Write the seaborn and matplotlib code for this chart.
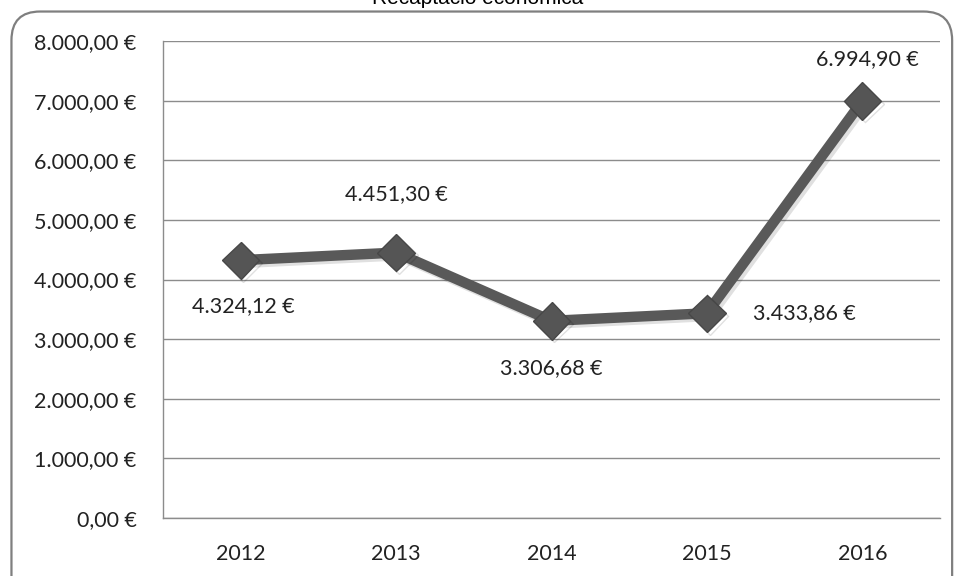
import matplotlib
matplotlib.use("Agg")
import matplotlib.pyplot as plt
import matplotlib.patheffects as pe
from matplotlib.patches import FancyBboxPatch
from matplotlib.ticker import FuncFormatter, FixedLocator
import seaborn as sns
import pandas as pd

# dades
anys = ["2012", "2013", "2014", "2015", "2016"]
recaptacio = [4324.12, 4451.30, 3306.68, 3433.86, 6994.90]
# posició de cada etiqueta respecte del punt (en punts)
offsets = [(2, -33), (0, 42), (0, -34), (70, 0), (4, 30)]

df = pd.DataFrame({"any": anys, "euros": recaptacio})


def euro(v, pos=None):
    s = f"{v:,.2f}".replace(",", "X").replace(".", ",").replace("X", ".")
    return s + " €"


sns.set_style("white")
plt.rcParams["font.family"] = ["Lato", "DejaVu Sans"]

fig = plt.figure(figsize=(9.55, 5.76), dpi=100)
ax = fig.add_axes([0.1707, 0.1007, 0.8136, 0.8281])

# marc arrodonit del gràfic
marc = FancyBboxPatch((0.012, -0.05), 0.985, 1.03, boxstyle="round,pad=0,rounding_size=0.03",
                      transform=fig.transFigure, fill=False, edgecolor="#7f7f7f", linewidth=1.6,
                      mutation_aspect=955 / 576, clip_on=False)
fig.patches.append(marc)

sns.lineplot(data=df, x="any", y="euros", ax=ax, color="#595959", linewidth=7.5,
             marker="D", markersize=19, markerfacecolor="#555555", markeredgecolor="#474747",
             markeredgewidth=1, sort=False,
             path_effects=[pe.SimpleLineShadow(offset=(2, -2), shadow_color="#000000", alpha=0.12),
                           pe.Normal()])

ax.set_xlim(-0.5, len(anys) - 0.5)
ax.set_ylim(0, 8000)
ax.set_yticks(range(0, 8001, 1000))
ax.yaxis.set_major_formatter(FuncFormatter(euro))
ax.xaxis.set_minor_locator(FixedLocator([i - 0.5 for i in range(len(anys) + 1)]))
ax.tick_params(axis="x", which="major", length=0, labelsize=15.5, pad=19, colors="#222222")
ax.tick_params(axis="x", which="minor", length=7, color="#888888", direction="out")
ax.tick_params(axis="y", length=7, color="#888888", labelsize=15.5, pad=12, colors="#222222",
               direction="out")
ax.tick_params(axis="y", color="#888888")
ax.tick_params(axis="x", which="minor", color="#888888")
ax.grid(axis="y", color="#8c8c8c", linewidth=1)
ax.set_axisbelow(True)
for side in ["top", "right"]:
    ax.spines[side].set_visible(False)
for side in ["left", "bottom"]:
    ax.spines[side].set_color("#8c8c8c")
    ax.spines[side].set_linewidth(1)
ax.set_xlabel("")
ax.set_ylabel("")

for i, (v, off) in enumerate(zip(recaptacio, offsets)):
    ax.annotate(euro(v), (i, v), xytext=off, textcoords="offset points",
                ha="center", va="center", fontsize=15.5, color="#222222")

fig.text(0.5, 1.003, "Recaptació econòmica", ha="center", va="center",
         fontsize=15, family=["Liberation Sans", "DejaVu Sans"], color="#000000")

fig.savefig("out.png", dpi=100)
